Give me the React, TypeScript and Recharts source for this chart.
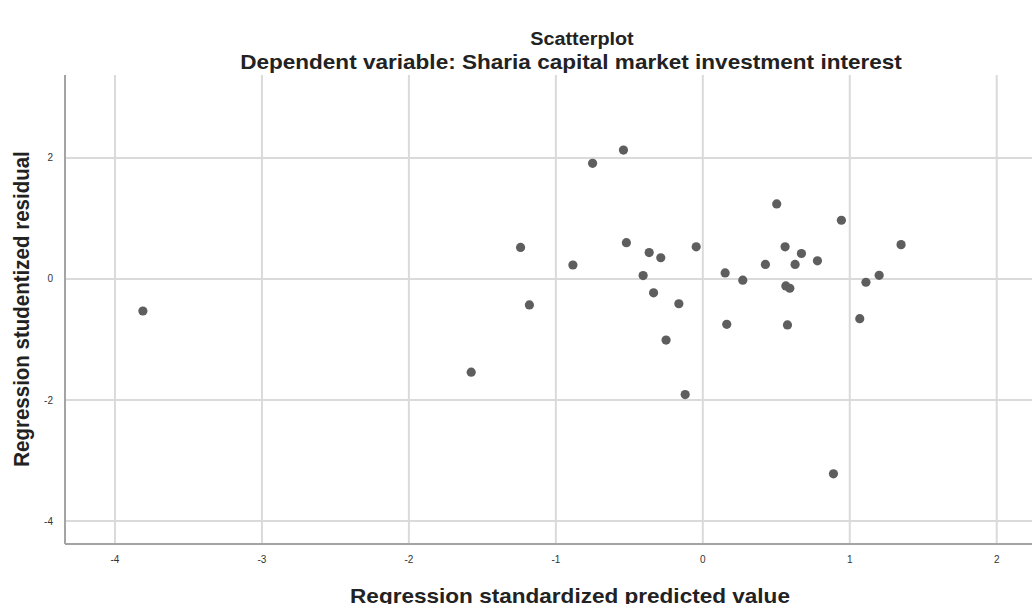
import { ReferenceLine, Scatter, ScatterChart, XAxis, YAxis } from 'recharts';

// values
const predicted = [
  -0.54, -0.75, -1.24, -0.52, -0.365, -0.286, -0.045, -0.884, -0.406, 0.152, 0.272, -0.335,
  -1.18, -0.163, 0.163, -0.25, -1.576, -0.12, 0.503, 0.943, 1.349, 0.56, 0.671, 0.426,
  0.628, 0.78, 1.2, 1.11, 0.565, 0.592, 0.576, 1.068, 0.889, -3.81,
];
const residual = [
  2.13, 1.91, 0.52, 0.6, 0.435, 0.35, 0.53, 0.23, 0.055, 0.1, -0.02, -0.23,
  -0.43, -0.41, -0.75, -1.01, -1.54, -1.91, 1.24, 0.97, 0.567, 0.53, 0.42, 0.24,
  0.24, 0.3, 0.06, -0.055, -0.116, -0.154, -0.76, -0.656, -3.22, -0.53,
];
const xTicks = [-4, -3, -2, -1, 0, 1, 2];
const yTicks = [-4, -2, 0, 2];

const points = predicted.map((x, i) => ({ x, y: residual[i] }));

const font = '"Liberation Sans", Arial, sans-serif';
const gridColor = '#dadada';

function Dot(props: { cx?: number; cy?: number }): JSX.Element {
  return <circle cx={props.cx} cy={props.cy} r={4.6} fill="#5e5e5e" />;
}

const headingStyle = {
  position: 'absolute' as const,
  left: 0,
  textAlign: 'center' as const,
  fontWeight: 'bold' as const,
  color: '#222',
  whiteSpace: 'nowrap' as const,
};

export default function App(): JSX.Element {
  return (
    <div
      style={{
        position: 'absolute',
        left: 0,
        top: 0,
        width: 1032,
        height: 604,
        overflow: 'hidden',
        background: '#fff',
        fontFamily: font,
      }}
    >
      <ScatterChart width={1032} height={604} margin={{ top: 75, right: 0, bottom: 0, left: 0 }}>
        <XAxis
          type="number"
          dataKey="x"
          domain={[-4.34, 2.24]}
          ticks={xTicks}
          allowDataOverflow
          height={60}
          tickLine={false}
          axisLine={false}
          tick={{ fontSize: 10, fill: '#333', fontFamily: font }}
          tickMargin={6}
        />
        <YAxis
          type="number"
          dataKey="y"
          domain={[-4.38, 3.37]}
          ticks={yTicks}
          allowDataOverflow
          width={65}
          tickLine={false}
          axisLine={false}
          tick={{ fontSize: 10, fill: '#333', fontFamily: font }}
          tickMargin={6}
        />
        {xTicks.map((t) => (
          <ReferenceLine key={`gx${t}`} x={t} stroke={gridColor} strokeWidth={2} />
        ))}
        {yTicks.map((t) => (
          <ReferenceLine key={`gy${t}`} y={t} stroke={gridColor} strokeWidth={2} />
        ))}
        <ReferenceLine x={-4.34} stroke="#a4a4a4" strokeWidth={2} />
        <ReferenceLine y={-4.38} stroke="#a4a4a4" strokeWidth={2} />
        <Scatter data={points} shape={Dot} isAnimationActive={false} />
      </ScatterChart>
      <div style={{ ...headingStyle, top: 29, width: 1164, fontSize: 18, transform: 'scaleX(1.1)', transformOrigin: '582px 0' }}>
        Scatterplot
      </div>
      <div style={{ ...headingStyle, top: 50, width: 1142, fontSize: 20.5, transform: 'scaleX(1.1)', transformOrigin: '571px 0' }}>
        Dependent variable: Sharia capital market investment interest
      </div>
      <div style={{ ...headingStyle, top: 584, width: 1140, fontSize: 20.5, transform: 'scaleX(1.1)', transformOrigin: '570px 0' }}>
        Regression standardized predicted value
      </div>
      <div style={{ position: 'absolute', top: 309, left: 21, width: 0, height: 0 }}>
        <div
          style={{
            position: 'absolute',
            left: 0,
            top: 0,
            transform: 'translate(-50%, -50%) rotate(-90deg) scaleY(1.1)',
            whiteSpace: 'nowrap',
            fontWeight: 'bold',
            fontSize: 20.5,
            color: '#222',
          }}
        >
          Regression studentized residual
        </div>
      </div>
    </div>
  );
}
